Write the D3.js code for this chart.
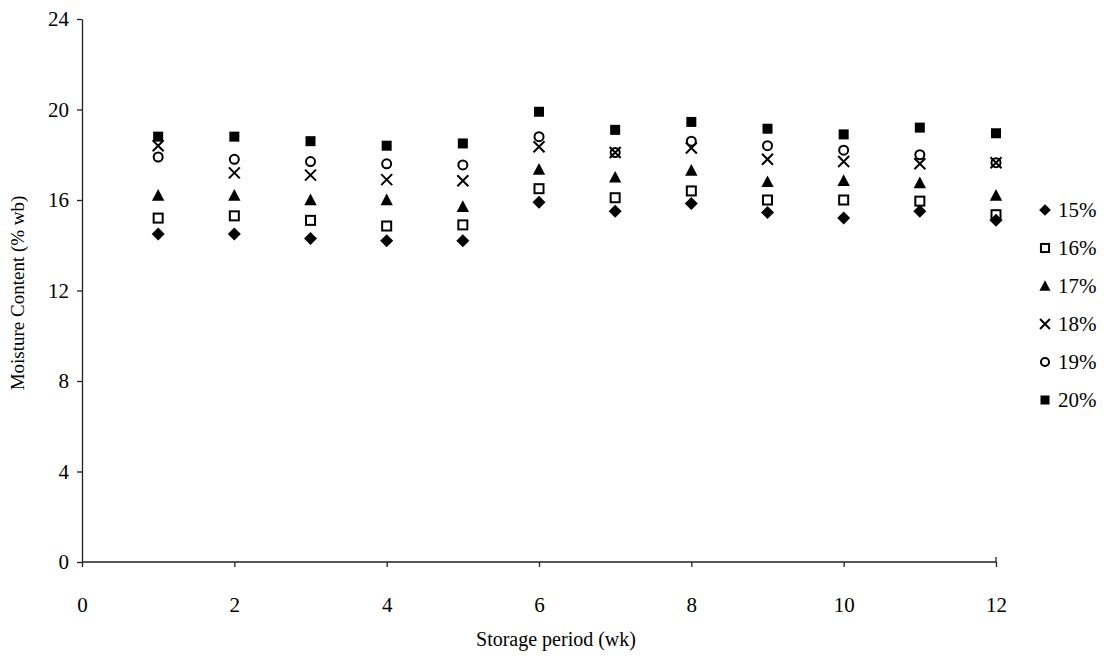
<!DOCTYPE html>
<html><head><meta charset="utf-8">
<script src="https://cdn.jsdelivr.net/npm/d3@7"></script>
<style>body{margin:0;background:#fff}svg{display:block}text{font-family:"Liberation Serif","Times New Roman",Times,"DejaVu Serif",serif;fill:#000}</style>
</head><body>
<svg id="c" width="1111" height="659"></svg>
<script>
const weeks = [1,2,3,4,5,6,7,8,9,10,11,12];
const s15 = [14.5,14.5,14.3,14.2,14.2,15.9,15.5,15.85,15.45,15.2,15.5,15.1];
const s16 = [15.2,15.3,15.1,14.85,14.9,16.5,16.1,16.4,16.0,16.0,15.95,15.35];
const s17 = [16.2,16.2,16.0,16.0,15.7,17.35,17.0,17.3,16.8,16.85,16.75,16.2];
const s18 = [18.4,17.2,17.1,16.9,16.85,18.35,18.1,18.3,17.8,17.7,17.6,17.65];
const s19 = [17.9,17.8,17.7,17.6,17.55,18.8,18.1,18.6,18.4,18.2,18.0,17.65];
const s20 = [18.8,18.8,18.6,18.4,18.5,19.9,19.1,19.45,19.15,18.9,19.2,18.95];
const seriesNames = ["15%","16%","17%","18%","19%","20%"];
const xTicks = [0,2,4,6,8,10,12];
const yTicks = [0,4,8,12,16,20,24];

const series = [
  {name:seriesNames[0], vals:s15, sym:"diamond"},
  {name:seriesNames[1], vals:s16, sym:"osquare"},
  {name:seriesNames[2], vals:s17, sym:"triangle"},
  {name:seriesNames[3], vals:s18, sym:"cross"},
  {name:seriesNames[4], vals:s19, sym:"circle"},
  {name:seriesNames[5], vals:s20, sym:"square"}
];

const FONT = '"Liberation Serif","Times New Roman",Times,"DejaVu Serif",serif';
const svg = d3.select("#c");
const L = 82, R = 996, T = 19, B = 562;
const x = d3.scaleLinear().domain([0,12]).range([L,R]);
const y = d3.scaleLinear().domain([0,24]).range([B,T]);

const xAxis = svg.append("g").attr("transform",`translate(0,${B})`)
  .call(d3.axisBottom(x).tickValues(xTicks).tickSize(5).tickSizeOuter(0).tickPadding(30));
const yAxis = svg.append("g").attr("transform",`translate(${L},0)`)
  .call(d3.axisLeft(y).tickValues(yTicks).tickSize(5).tickSizeOuter(0).tickPadding(8));
[xAxis,yAxis].forEach(a=>{
  a.attr("font-family",null);
  a.selectAll("path,line").attr("stroke","#222").attr("stroke-width",1.3);
  a.selectAll("text").style("font-family",FONT).style("font-size","21px").attr("fill","#000");
});
xAxis.select(".domain").attr("d",`M${L},0H${R}V-5`);

svg.append("text").attr("x",(L+R)/2+17).attr("y",646).attr("text-anchor","middle")
  .style("font-family",FONT).style("font-size","20px").text("Storage period (wk)");
svg.append("text").attr("transform","translate(24,293) rotate(-90)").attr("text-anchor","middle")
  .style("font-family",FONT).style("font-size","19px").text("Moisture Content (% wb)");

function drawSym(g, sym, cx, cy, scale){
  scale = scale||1;
  if(sym==="diamond"){
    const s=6.5*scale;
    g.append("path").attr("d",`M${cx},${cy-s}L${cx+s},${cy}L${cx},${cy+s}L${cx-s},${cy}Z`).attr("fill","#000");
  } else if(sym==="osquare"){
    const s=4.5*scale;
    g.append("rect").attr("x",cx-s).attr("y",cy-s).attr("width",2*s).attr("height",2*s)
      .attr("fill","none").attr("stroke","#000").attr("stroke-width",2);
  } else if(sym==="triangle"){
    const s=6.5*scale;
    g.append("path").attr("d",`M${cx},${cy-s}L${cx+s*0.95},${cy+s*0.8}L${cx-s*0.95},${cy+s*0.8}Z`).attr("fill","#000");
  } else if(sym==="cross"){
    const s=5.5*scale;
    g.append("path").attr("d",`M${cx-s},${cy-s}L${cx+s},${cy+s}M${cx+s},${cy-s}L${cx-s},${cy+s}`)
      .attr("stroke","#000").attr("stroke-width",2).attr("fill","none");
  } else if(sym==="circle"){
    g.append("circle").attr("cx",cx).attr("cy",cy).attr("r",4.5*scale)
      .attr("fill","none").attr("stroke","#000").attr("stroke-width",2);
  } else if(sym==="square"){
    const s=5*scale;
    g.append("rect").attr("x",cx-s).attr("y",cy-s).attr("width",2*s).attr("height",2*s).attr("fill","#000");
  }
}

const pts = svg.append("g");
series.forEach(s=>{
  s.vals.forEach((v,i)=>drawSym(pts, s.sym, x(weeks[i]), y(v)));
});

const leg = svg.append("g");
const ly = d3.scaleLinear().domain([0,5]).range([210,400]);
series.forEach((s,i)=>{
  drawSym(leg, s.sym, 1045, ly(i), 0.9);
  leg.append("text").attr("x",1058).attr("y",ly(i)+7).style("font-family",FONT).style("font-size","21px").text(s.name);
});
</script>
</body></html>
